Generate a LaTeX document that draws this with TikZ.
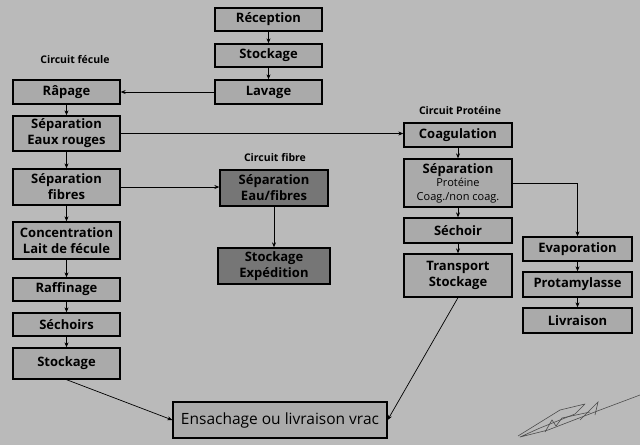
\documentclass[tikz,border=0pt]{standalone}
\usepackage{fontspec}
\setmainfont{Open Sans}
\usetikzlibrary{arrows.meta}
\definecolor{bg}{RGB}{186,186,186}
\definecolor{boxfill}{RGB}{170,170,170}
\definecolor{darkfill}{RGB}{118,118,118}
\tikzset{
  box/.style={draw=black, line width=1.3pt, fill=boxfill, align=center, inner sep=1pt,
    font=\fontsize{13}{16}\selectfont\bfseries, minimum width=107pt},
  darkbox/.style={box, fill=darkfill},
  lbl/.style={font=\fontsize{10.5}{12}\selectfont\bfseries},
  arr/.style={-{Stealth[length=5pt,width=4pt]}, line width=0.7pt},
}
\begin{document}
\begin{tikzpicture}[x=1pt,y=-1pt]
\fill[bg] (0,0) rectangle (640,445);
\useasboundingbox (0,0) rectangle (640,445);
% main column
\node[box, minimum height=23pt] (rec) at (268.5,19.5) {Réception};
\node[box, minimum height=23pt] (stk1) at (268.5,55.5) {Stockage};
\node[box, minimum height=24pt] (lav) at (268.5,92) {Lavage};
% circuit fecule
\node[lbl] (lf) at (75,60) {Circuit fécule};
\node[box, minimum height=24pt] (rap) at (66.5,92) {Râpage};
\node[box, minimum height=35pt] (ser) at (66.5,133.5) {Séparation\\Eaux rouges};
\node[box, minimum height=36pt] (sef) at (66.5,187) {Séparation\\fibres};
\node[box, minimum height=37pt] (con) at (66.5,240.5) {Concentration\\Lait de fécule};
\node[box, minimum height=23pt] (raf) at (66.5,289.5) {Raffinage};
\node[box, minimum height=23pt] (sec) at (66.5,324.5) {Séchoirs};
\node[box, minimum height=31pt] (stk2) at (66.5,363.5) {Stockage};
% circuit fibre
\node[lbl] (lfi) at (275,158) {Circuit fibre};
\node[darkbox, minimum width=108pt, minimum height=36pt] (sfe) at (274,188) {Séparation\\Eau/fibres};
\node[darkbox, minimum width=112pt, minimum height=36pt] (sxp) at (274,266) {Stockage\\Expédition};
% circuit proteine
\node[lbl] (lp) at (460,111) {Circuit Protéine};
\node[box, minimum width=108pt, minimum height=24pt] (coa) at (458,135) {Coagulation};
\node[box, minimum width=108pt, minimum height=48pt] (sep) at (458,183) {Séparation\\[-3pt]{\fontsize{11}{13}\selectfont\mdseries Protéine}\\[-2pt]{\fontsize{11}{13}\selectfont\mdseries Coag./non coag.}};
\node[box, minimum width=108pt, minimum height=25pt] (sch) at (458,230.5) {Séchoir};
\node[box, minimum width=108pt, minimum height=43pt] (trs) at (458,275.5) {Transport\\Stockage};
\node[box, minimum width=109pt, minimum height=24pt] (eva) at (577.5,249) {Evaporation};
\node[box, minimum width=109pt, minimum height=25pt] (pro) at (577.5,284.5) {Protamylasse};
\node[box, minimum width=109pt, minimum height=25pt] (liv) at (577.5,320.5) {Livraison};
% final
\node[box, minimum width=214pt, minimum height=36pt, font=\fontsize{15.5}{17}\selectfont\mdseries] (ens) at (280,420) {Ensachage ou livraison vrac};
% arrows
\draw[arr] (rec) -- (stk1);
\draw[arr] (stk1) -- (lav);
\draw[arr] (lav) -- (rap);
\draw[arr] (rap) -- (ser);
\draw[arr] (ser) -- (sef);
\draw[arr] (sef) -- (con);
\draw[arr] (con) -- (raf);
\draw[arr] (raf) -- (sec);
\draw[arr] (sec) -- (stk2);
\draw[arr] (ser.east) -- (ser.east -| coa.west);
\draw[arr] (sef.east) -- (sef.east -| sfe.west);
\draw[arr] (sfe) -- (sxp);
\draw[arr] (coa) -- (sep);
\draw[arr] (sep) -- (sch);
\draw[arr] (sch) -- (trs);
\draw[arr] (sep.east) -| (eva.north);
\draw[arr] (eva) -- (pro);
\draw[arr] (pro) -- (liv);
\draw[arr] (stk2.south) -- (ens.west);
\draw[arr] (trs.south) -- (ens.east);
% signature scribble
\draw[black!70, line width=0.6pt, line join=round]
  (518,436) -- (560,410) -- (585,404) -- (575,414) -- (540,428) -- (520,437) -- (548,430)
  -- (600,410) -- (640,395);
\draw[black!70, line width=0.6pt] (545,432) -- (552,420) -- (556,426) -- (562,418) -- (590,412);
\draw[black!70, line width=0.6pt] (580,420) -- (598,402) -- (595,415);
\end{tikzpicture}
\end{document}
